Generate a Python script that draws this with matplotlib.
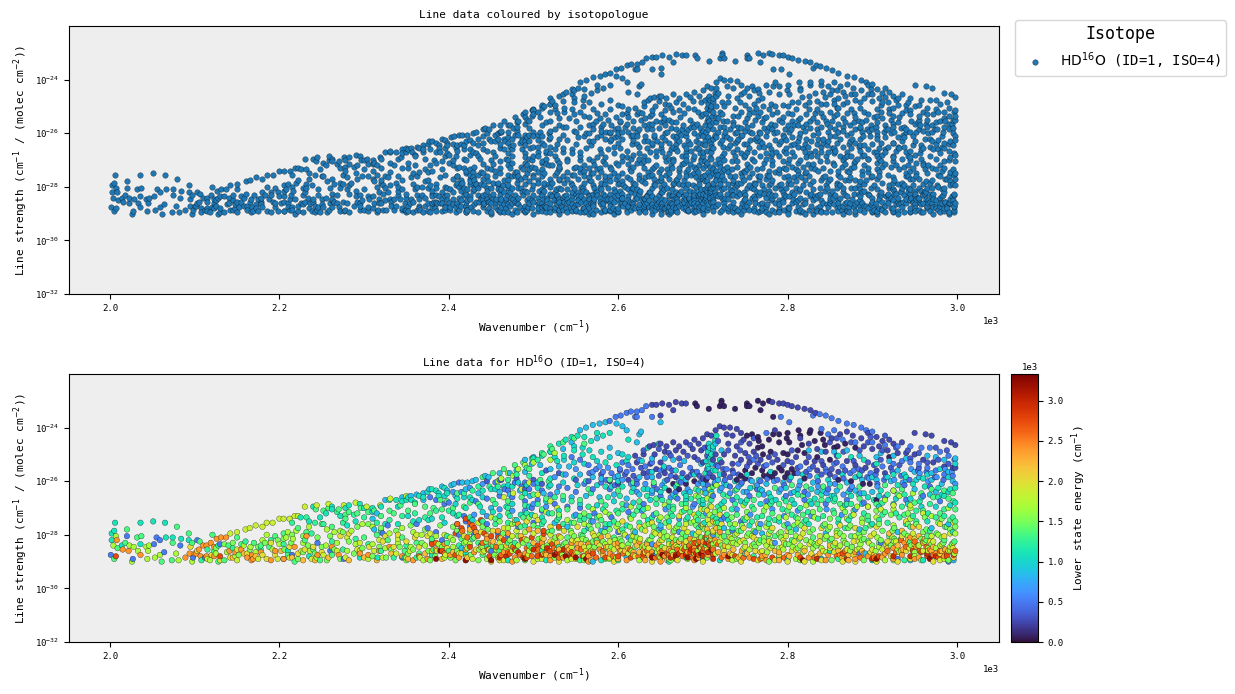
import numpy as np
import matplotlib
matplotlib.use("Agg")
import matplotlib.pyplot as plt

plt.rcParams['font.family'] = ['DejaVu Sans Mono']

# line list grouped by lower state energy (cm-1)
# each list holds wavenumber, log10(strength) pairs
e0080 = [2691,-23.1, 2693,-23.2, 2707,-23.3, 2722,-23.0, 2722,-23.1, 2720,-23.2, 2725,-23.2, 2738,-23.3,
    2752,-23.1, 2752,-23.2, 2755,-23.2, 2765,-23.0, 2771,-23.1, 2778,-23.0, 2768,-23.35, 2783,-23.6,
    2752,-24.3, 2758,-24.25, 2765,-24.35, 2766,-24.5, 2778,-24.45, 2770,-24.7, 2771,-25.0, 2783,-24.25,
    2790,-24.25, 2800,-24.2, 2799,-24.4, 2802,-24.55, 2813,-24.1, 2815,-24.3, 2827,-24.1, 2826,-24.2,
    2839,-24.2, 2817,-24.65, 2832,-24.5, 2842,-24.45, 2844,-24.65, 2855,-24.75, 2859,-24.7, 2800,-25.0,
    2765,-24.75, 2790,-24.55, 2812,-24.85, 2780,-24.9, 2795,-24.95, 2745,-25.8, 2750,-25.6, 2758,-25.7,
    2762,-25.5, 2770,-25.6, 2778,-25.75, 2785,-25.7, 2790,-25.5, 2793,-25.6, 2800,-25.7, 2797,-25.85,
    2805,-25.55, 2808,-25.7, 2750,-25.9, 2740,-25.95, 2772,-25.8, 2782,-25.85, 2820,-25.9, 2905,-26.7,
    2897,-26.1, 2889,-26.1, 2665,-26.1, 2672,-26.3, 2680,-26.1, 2690,-26.0, 2660,-26.35, 2704,-25.95,
    2875,-26.0, 2860,-25.95, 2850,-25.2, 2835,-25.1, 2820,-24.95, 2880,-24.75, 2868,-24.6, 2920,-25.1]
e0250 = [2640,-23.15, 2645,-23.15, 2652,-23.1, 2660,-23.15, 2668,-23.05, 2675,-23.1, 2680,-23.1, 2665,-23.35,
    2782,-23.05, 2790,-23.1, 2795,-23.1, 2800,-23.15, 2805,-23.2, 2812,-23.25, 2820,-23.3, 2827,-23.35,
    2833,-23.45, 2650,-23.55, 2785,-24.1, 2637,-24.7, 2642,-24.65, 2650,-24.6, 2657,-24.7, 2665,-24.55,
    2672,-24.7, 2680,-24.55, 2690,-24.45, 2695,-24.6, 2700,-24.4, 2705,-24.25, 2710,-24.3, 2715,-24.1,
    2720,-23.95, 2725,-24.0, 2732,-24.0, 2740,-24.05, 2745,-24.2, 2728,-24.25, 2735,-24.3, 2748,-24.45,
    2755,-24.6, 2730,-24.6, 2740,-24.7, 2760,-24.9, 2750,-24.95, 2725,-25.0, 2738,-25.05, 2715,-25.0,
    2706,-24.7, 2698,-24.85, 2688,-24.8, 2677,-24.9, 2668,-24.85, 2655,-24.9, 2643,-25.0, 2630,-25.0,
    2620,-25.05, 2622,-25.3, 2638,-25.35, 2650,-25.3, 2690,-25.1, 2700,-25.3, 2712,-25.2, 2722,-25.3,
    2735,-25.35, 2745,-25.2, 2755,-25.3, 2768,-25.2, 2778,-25.1, 2788,-25.2, 2800,-25.25, 2810,-25.1,
    2822,-25.3, 2832,-25.25, 2842,-25.4, 2815,-24.4, 2825,-24.6, 2835,-24.8, 2845,-24.9, 2852,-24.4,
    2862,-24.25, 2870,-24.15, 2877,-24.3, 2887,-24.4, 2895,-24.2, 2905,-24.35, 2912,-24.5, 2920,-24.45,
    2925,-24.6, 2935,-24.55, 2950,-24.2, 2963,-24.25, 2970,-24.3, 2985,-24.5, 2993,-24.55, 2998,-24.65,
    2890,-24.7, 2900,-24.8, 2908,-24.7, 2918,-24.85, 2930,-24.95, 2940,-24.95, 2950,-25.0, 2960,-25.2,
    2972,-25.3, 2985,-25.45, 2995,-25.5, 2998,-25.5, 2870,-25.25, 2880,-25.4, 2892,-25.5, 2905,-25.6,
    2915,-25.7, 2860,-25.65, 2850,-25.75, 2835,-25.6, 2735,-25.6, 2725,-25.75, 2712,-25.85, 2700,-25.9,
    2682,-25.85, 2668,-25.85, 2655,-25.7, 2645,-25.55, 2630,-25.7, 2612,-25.95, 2600,-26.1, 2590,-26.0]
e0350 = [2602,-25.6, 2608,-25.75, 2618,-25.8, 2627,-25.5, 2636,-25.65, 2648,-25.8, 2658,-25.95, 2664,-25.6,
    2676,-25.7, 2688,-25.65, 2696,-25.8, 2708,-25.7, 2716,-25.4, 2724,-25.55, 2732,-25.85, 2742,-25.75,
    2752,-25.45, 2765,-25.35, 2772,-25.45, 2782,-25.3, 2795,-25.4, 2805,-25.3, 2812,-25.5, 2822,-25.65,
    2830,-25.45, 2840,-25.75, 2852,-25.55, 2858,-25.3, 2868,-25.6, 2878,-25.25, 2888,-25.6, 2895,-25.3,
    2902,-25.4, 2910,-25.2, 2922,-25.5, 2932,-25.4, 2945,-25.15, 2955,-25.5, 2965,-25.3, 2978,-25.2,
    2990,-25.35, 2630,-24.85, 2648,-24.8, 2662,-25.05, 2672,-25.15, 2682,-25.05, 2694,-25.2, 2705,-25.05,
    2730,-24.85, 2744,-24.85, 2754,-25.1, 2763,-25.05, 2785,-25.0, 2805,-24.85, 2825,-25.1, 2840,-25.25,
    2858,-25.05, 2866,-24.9, 2875,-24.55, 2885,-24.85, 2895,-24.55, 2912,-24.85, 2928,-24.75, 2942,-24.85,
    2955,-24.95, 2975,-24.75, 2988,-24.85, 2850,-24.55, 2858,-24.4, 2898,-24.35, 2915,-24.3, 2760,-24.4,
    2745,-24.55, 2718,-24.5, 2702,-24.75, 2685,-24.65, 2660,-24.95, 2445,-26.0, 2462,-25.95, 2480,-25.9,
    2500,-25.95, 2515,-25.6, 2530,-25.7, 2565,-26.0, 2580,-25.75, 2490,-26.3, 2510,-26.1, 2550,-25.95]
e0450 = [2566,-25.7, 2586,-25.95, 2596,-26.15, 2610,-25.65, 2622,-25.95, 2634,-25.85, 2642,-26.15, 2654,-25.55,
    2662,-25.8, 2674,-26.05, 2686,-25.75, 2698,-26.0, 2706,-25.85, 2714,-26.1, 2726,-25.95, 2736,-25.7,
    2746,-26.05, 2756,-25.95, 2768,-26.0, 2776,-25.9, 2788,-25.95, 2802,-25.95, 2812,-25.7, 2826,-25.8,
    2836,-26.0, 2846,-25.65, 2856,-25.85, 2866,-25.9, 2874,-25.7, 2884,-25.55, 2894,-25.85, 2904,-25.75,
    2914,-25.95, 2924,-25.65, 2934,-25.8, 2944,-25.95, 2954,-25.6, 2964,-25.65, 2974,-25.85, 2984,-25.95,
    2622,-26.1, 2646,-26.3, 2668,-26.4, 2706,-26.15, 2732,-26.2, 2764,-26.3, 2796,-26.15, 2820,-26.4,
    2848,-26.3, 2874,-26.3, 2906,-26.1, 2938,-26.15, 2968,-26.2]
e0500 = [2590,-23.75, 2597,-23.6, 2603,-23.55, 2610,-23.45, 2615,-23.4, 2622,-23.4, 2628,-23.35, 2633,-23.2,
    2620,-23.6, 2640,-23.6, 2622,-23.6, 2830,-23.55, 2838,-23.5, 2845,-23.55, 2852,-23.65, 2860,-23.75,
    2870,-23.85, 2878,-23.9, 2887,-24.0, 2893,-24.1, 2900,-24.15, 2775,-24.2, 2792,-23.6, 2802,-23.8,
    2545,-25.1, 2555,-25.2, 2565,-25.4, 2574,-25.55, 2582,-25.65, 2592,-25.7, 2602,-25.55, 2612,-25.4,
    2605,-25.3, 2617,-25.55, 2625,-25.2, 2632,-25.45, 2640,-25.3, 2650,-25.6, 2660,-25.5, 2673,-25.4,
    2685,-25.5, 2693,-25.65, 2705,-25.55, 2718,-25.45, 2728,-25.55, 2742,-25.35, 2760,-25.2, 2775,-25.4,
    2815,-25.45, 2826,-25.55, 2845,-25.55, 2855,-25.35, 2865,-25.45, 2878,-25.6, 2885,-25.8, 2898,-25.7,
    2912,-25.45, 2925,-25.35, 2935,-25.25, 2945,-25.3, 2955,-25.35, 2965,-25.5, 2975,-25.6, 2985,-25.75,
    2995,-25.8, 2997,-25.2, 2990,-25.05, 2980,-24.9, 2968,-24.75, 2958,-24.75, 2945,-24.7, 2930,-24.7,
    2915,-24.65, 2900,-24.55, 2880,-24.55, 2865,-24.45, 2855,-24.1, 2848,-24.25, 2840,-24.05, 2495,-26.3,
    2510,-26.35, 2520,-26.5, 2530,-26.2, 2540,-26.25, 2550,-26.4, 2560,-26.1, 2570,-26.3, 2580,-26.05,
    2590,-26.3, 2455,-26.05, 2466,-26.3, 2478,-26.05, 2486,-26.2, 2470,-26.35, 2490,-26.05, 2500,-26.1,
    2432,-26.75, 2445,-26.65, 2460,-26.55, 2475,-26.6, 2490,-26.75, 2505,-26.7, 2525,-26.85, 2540,-26.95,
    2555,-27.0, 2572,-27.2, 2592,-27.35, 2612,-27.15, 2630,-26.85, 2650,-26.55, 2670,-26.65, 2690,-26.85,
    2712,-26.55, 2735,-26.7, 2755,-26.55, 2775,-26.75, 2798,-26.55, 2820,-26.7, 2845,-26.85, 2870,-26.7,
    2890,-26.8, 2915,-26.6, 2940,-26.7, 2960,-26.55, 2980,-26.75, 2498,-27.0, 2510,-27.1, 2600,-27.9,
    2725,-27.35, 2735,-27.85, 2745,-27.5, 2885,-28.7, 2930,-28.9, 2910,-28.3, 2990,-29.0, 2645,-28.7,
    2500,-27.55, 2420,-27.5, 2432,-27.9, 2445,-27.6, 2458,-27.95, 2470,-28.05, 2482,-27.7, 2400,-26.8,
    2412,-26.05, 2378,-26.6, 2385,-26.7, 2395,-26.85, 2418,-27.3, 2438,-28.4, 2450,-28.6, 2385,-27.9]
e0500_left = [2020,-28.05, 2055,-28.1, 2059,-28.2, 2052,-28.35, 2083,-28.4, 2064,-28.65, 2001,-28.75, 2027,-28.9,
    2098,-28.85, 2103,-28.2, 2130,-28.35, 2112,-28.85, 2215,-28.75, 2245,-28.3, 2260,-28.6, 2276,-28.9,
    2322,-27.95, 2328,-27.65, 2345,-28.85, 2362,-27.6, 2375,-27.75, 2392,-28.2, 2412,-28.0, 2430,-28.0]
e0650 = [2570,-25.65, 2578,-25.45, 2588,-25.5, 2596,-25.85, 2605,-25.95, 2615,-26.1, 2622,-26.4, 2632,-26.1,
    2640,-26.45, 2652,-26.15, 2662,-26.6, 2672,-26.0, 2682,-26.3, 2694,-26.1, 2702,-26.3, 2714,-26.05,
    2722,-26.25, 2732,-26.45, 2742,-26.2, 2752,-26.4, 2764,-26.15, 2772,-26.5, 2784,-26.0, 2792,-26.3,
    2804,-26.45, 2814,-26.15, 2824,-26.5, 2836,-26.2, 2846,-26.45, 2856,-26.1, 2866,-26.5, 2876,-26.2,
    2886,-26.45, 2896,-25.9, 2906,-26.2, 2916,-25.85, 2926,-25.95, 2936,-26.05, 2946,-25.55, 2956,-25.7,
    2966,-26.0, 2976,-25.85, 2986,-25.55, 2994,-25.65, 2998,-26.1, 2610,-26.9, 2628,-27.1, 2642,-27.25,
    2656,-27.05, 2672,-27.4, 2688,-26.95, 2704,-27.2, 2722,-27.45, 2740,-27.05, 2756,-27.25, 2768,-27.6,
    2782,-27.05, 2796,-27.3, 2812,-27.1, 2828,-27.3, 2846,-27.05, 2864,-27.25, 2880,-27.05, 2650,-27.75,
    2672,-27.9, 2698,-27.65, 2712,-28.0, 2762,-27.9, 2785,-28.3, 2800,-27.6, 2640,-28.35, 2612,-28.1,
    2585,-27.7, 2570,-27.5, 2550,-27.25, 2530,-27.3, 2515,-26.95, 2500,-26.85, 2490,-27.1, 2475,-27.1,
    2460,-27.05, 2445,-27.3, 2430,-27.25, 2425,-27.7, 2410,-27.6, 2550,-25.55, 2538,-25.75, 2525,-25.85,
    2460,-25.95, 2440,-26.1, 2425,-26.25, 2415,-26.4, 2405,-26.4]
e0850 = [2555,-24.1, 2562,-24.0, 2570,-23.9, 2578,-23.85, 2585,-23.8, 2598,-23.85, 2605,-23.95, 2610,-24.1,
    2627,-24.15, 2650,-23.8, 2622,-24.55, 2625,-24.25, 2648,-24.6, 2600,-24.95, 2590,-24.75, 2575,-24.4,
    2545,-24.55, 2535,-24.8, 2520,-24.9, 2510,-25.0, 2500,-25.1, 2490,-25.2, 2498,-25.35, 2508,-25.4,
    2520,-25.55, 2530,-25.45, 2542,-25.45, 2555,-25.75, 2570,-25.85, 2580,-25.9, 2600,-25.8, 2625,-25.85,
    2640,-25.85, 2655,-26.0, 2680,-25.95, 2700,-26.1, 2718,-25.95, 2725,-26.05, 2745,-26.1, 2758,-26.0,
    2775,-26.1, 2795,-26.05, 2815,-26.0, 2830,-26.05, 2850,-26.1, 2870,-26.05, 2888,-25.95, 2905,-25.95,
    2922,-26.0, 2940,-25.95, 2955,-25.85, 2970,-25.95, 2982,-26.1, 2995,-26.0, 2990,-25.65, 2970,-25.7,
    2950,-25.65, 2930,-25.6, 2920,-25.25, 2905,-25.1, 2885,-25.05, 2870,-24.85, 2855,-24.9, 2840,-24.9,
    2825,-24.85, 2965,-25.05, 2975,-25.1, 2985,-25.2, 2998,-25.15, 2940,-25.15, 2925,-25.05, 2910,-24.95,
    2715,-24.6, 2712,-24.8, 2722,-24.85, 2640,-25.15, 2655,-25.15, 2665,-25.2, 2678,-25.25, 2698,-25.35,
    2460,-26.4, 2472,-26.5, 2484,-26.35, 2496,-26.55, 2512,-26.45, 2528,-26.4, 2545,-26.6, 2562,-26.55,
    2578,-26.6, 2595,-26.5, 2610,-26.65, 2625,-26.5, 2640,-26.35, 2665,-26.5, 2685,-26.4, 2703,-26.45,
    2720,-26.35, 2748,-26.4, 2770,-26.35, 2790,-26.4, 2812,-26.3, 2835,-26.4, 2858,-26.35, 2880,-26.35,
    2900,-26.4, 2925,-26.35, 2950,-26.3, 2975,-26.4, 2420,-26.3, 2435,-26.45, 2408,-26.55, 2398,-26.35,
    2345,-26.6, 2355,-26.55, 2362,-26.5, 2370,-26.45, 2377,-26.3, 2392,-26.2, 2403,-26.15, 2406,-26.1,
    2416,-26.05, 2422,-26.05, 2428,-26.0, 2432,-25.95, 2443,-25.8, 2447,-25.85, 2460,-25.7, 2472,-25.7,
    2480,-25.6, 2490,-25.65, 2370,-26.7, 2325,-26.7, 2315,-27.2, 2310,-27.4, 2312,-27.8, 2450,-27.0,
    2525,-27.55, 2540,-27.7, 2565,-27.75, 2580,-27.85, 2620,-27.9, 2650,-27.65, 2688,-27.95, 2725,-27.75,
    2770,-27.95, 2810,-27.8, 2845,-27.95, 2885,-27.8, 2930,-27.9, 2970,-27.75, 2990,-27.6, 2750,-28.7,
    2700,-28.9, 2610,-28.85, 2570,-29.0, 2840,-28.9, 2892,-28.7, 2945,-28.95, 2996,-28.95, 2415,-28.5]
e1000 = [2707,-24.6, 2708,-24.75, 2706,-24.9, 2709,-25.1, 2704,-25.25, 2711,-25.35, 2707,-25.55, 2712,-25.6,
    2548,-24.7, 2558,-24.75, 2566,-24.85, 2580,-24.9, 2590,-25.1, 2575,-25.25, 2560,-25.35, 2548,-25.3,
    2536,-25.2, 2525,-25.1, 2605,-25.0, 2612,-25.1, 2628,-25.25, 2640,-25.65, 2654,-25.45, 2668,-25.6,
    2675,-25.85, 2690,-25.75, 2720,-25.75, 2738,-26.0, 2752,-25.75, 2766,-25.95, 2780,-25.65, 2804,-25.85,
    2818,-25.75, 2835,-25.85, 2848,-25.95, 2865,-25.75, 2880,-25.85, 2900,-25.85, 2918,-25.85, 2938,-25.75,
    2952,-25.95, 2965,-25.75, 2980,-25.55, 2990,-25.85, 2998,-25.35, 2600,-26.0, 2618,-26.25, 2635,-26.3,
    2650,-26.4, 2668,-26.2, 2678,-26.45, 2695,-26.35, 2710,-26.4, 2728,-26.15, 2738,-26.35, 2756,-26.25,
    2768,-26.3, 2778,-26.45, 2798,-26.25, 2808,-26.4, 2828,-26.3, 2842,-26.35, 2855,-26.55, 2872,-26.4,
    2890,-26.45, 2908,-26.55, 2928,-26.65, 2945,-26.65, 2958,-26.6, 2968,-26.5, 2982,-26.5, 2990,-26.4,
    2440,-26.6, 2455,-26.3, 2470,-26.15, 2482,-26.05, 2492,-26.15, 2505,-26.05, 2520,-26.15, 2535,-26.05,
    2552,-26.15, 2575,-26.15, 2592,-26.2, 2475,-26.85, 2495,-26.95, 2515,-26.75, 2535,-26.7, 2555,-26.85,
    2575,-26.9, 2595,-26.75, 2618,-26.8, 2638,-26.7, 2660,-26.95, 2680,-26.7, 2700,-26.85, 2722,-26.85,
    2745,-26.75, 2768,-26.85, 2786,-26.7, 2808,-26.85, 2828,-26.85, 2848,-26.7, 2868,-26.9, 2888,-26.85,
    2908,-26.95, 2925,-26.85, 2942,-26.85, 2958,-26.95, 2975,-26.95, 2992,-26.9, 2418,-26.6, 2428,-26.7,
    2408,-26.85, 2388,-26.45, 2395,-26.55, 2310,-27.15, 2340,-26.95, 2352,-27.3, 2365,-27.45, 2380,-27.4,
    2395,-27.55, 2410,-27.3, 2428,-27.45, 2440,-27.15, 2460,-27.3, 2480,-27.45, 2498,-27.25, 2518,-27.2]
e1100 = [2520,-24.9, 2530,-24.6, 2538,-24.45, 2545,-24.35, 2552,-24.3, 2560,-24.35, 2568,-24.5, 2575,-24.2,
    2582,-24.3, 2590,-24.2, 2510,-25.05, 2500,-25.15, 2612,-24.45, 2635,-24.75, 2716,-24.3, 2714,-24.5,
    2712,-24.7, 2710,-25.0, 2708,-25.15, 2706,-25.45, 2703,-25.7, 2715,-25.6, 2720,-25.2, 2610,-25.25,
    2598,-25.4, 2585,-25.3, 2570,-25.1, 2558,-25.0, 2548,-24.85, 2536,-25.05, 2528,-25.25, 2510,-25.7,
    2520,-25.9, 2535,-25.75, 2548,-25.9, 2562,-26.0, 2585,-26.2, 2605,-26.2, 2630,-26.3, 2655,-26.25,
    2680,-26.55, 2700,-26.7, 2725,-26.75, 2750,-26.8, 2780,-26.6, 2805,-26.7, 2832,-26.65, 2852,-26.55,
    2875,-26.55, 2895,-26.6, 2910,-26.35, 2930,-26.15, 2948,-26.1, 2962,-26.2, 2978,-26.25, 2992,-26.3,
    2998,-26.25, 2940,-25.85, 2925,-25.75, 2905,-25.35, 2890,-25.2, 2875,-25.1, 2860,-25.05, 2885,-25.75,
    2960,-25.9, 2985,-26.55, 2998,-26.8, 2365,-26.55, 2375,-26.4, 2385,-26.35, 2395,-26.25, 2370,-26.6,
    2380,-26.3, 2388,-26.55, 2398,-26.45, 2350,-26.7, 2345,-26.75, 2352,-26.6, 2356,-26.7, 2360,-26.8,
    2338,-26.7, 2330,-26.7, 2320,-26.95, 2310,-27.0, 2282,-26.9, 2295,-26.85, 2240,-26.95, 2262,-26.95,
    2278,-27.0, 2300,-27.0, 2410,-26.65, 2425,-26.6, 2440,-26.35, 2450,-26.3, 2465,-26.2, 2475,-26.2,
    2490,-26.45, 2505,-26.25, 2518,-26.2, 2225,-27.35, 2235,-27.5, 2248,-27.35, 2255,-27.2, 2262,-27.05,
    2272,-27.3, 2280,-27.65, 2290,-27.5, 2320,-27.85, 2325,-27.6, 2340,-27.6, 2358,-27.5, 2376,-27.45,
    2392,-27.35, 2405,-27.2, 2420,-27.0, 2437,-26.95, 2452,-27.15, 2468,-26.95, 2485,-27.25, 2510,-27.35,
    2530,-27.1, 2548,-27.3, 2568,-27.5, 2590,-27.6, 2610,-27.65, 2635,-27.45, 2660,-27.5, 2682,-27.35,
    2702,-27.55, 2730,-27.45, 2755,-27.65, 2790,-27.5, 2825,-27.6, 2860,-27.55, 2900,-27.6, 2940,-27.6,
    2965,-27.5, 2995,-27.9, 2210,-28.6, 2235,-28.8, 2262,-28.5, 2295,-28.85, 2316,-28.85, 2348,-28.85,
    2380,-28.75, 2420,-28.7, 2470,-28.95, 2515,-28.95, 2580,-28.95, 2660,-29.0, 2720,-28.95, 2800,-28.95,
    2850,-28.6, 2900,-28.95, 2960,-28.95, 2006,-27.55, 2005,-27.85, 2002,-27.95, 2036,-27.55, 2051,-27.5,
    2065,-27.55, 2002,-28.2, 2014,-28.4, 2036,-28.35, 2084,-28.15, 2093,-28.2, 2074,-28.1, 2066,-28.1]
e1200 = [2568,-26.45, 2588,-26.6, 2602,-26.55, 2616,-26.4, 2634,-26.55, 2652,-26.7, 2668,-26.6, 2686,-26.65,
    2696,-26.75, 2710,-26.7, 2724,-26.5, 2740,-26.6, 2752,-26.7, 2766,-26.5, 2782,-26.75, 2796,-26.65,
    2812,-26.5, 2826,-26.75, 2840,-26.5, 2856,-26.65, 2870,-26.85, 2884,-26.5, 2902,-26.7, 2918,-26.5,
    2938,-26.5, 2956,-26.75, 2978,-26.6, 2566,-27.3, 2582,-27.05, 2598,-27.1, 2614,-27.35, 2630,-27.05,
    2648,-27.45, 2664,-27.3, 2678,-27.1, 2694,-27.45, 2716,-27.4, 2734,-27.05, 2750,-27.45, 2764,-27.35,
    2778,-27.4, 2794,-27.05, 2810,-27.35, 2824,-27.15, 2836,-27.4, 2854,-27.1, 2872,-27.45, 2890,-27.2,
    2908,-27.45, 2928,-27.2, 2948,-27.3, 2966,-27.2, 2985,-27.3, 2472,-27.3, 2492,-27.2, 2512,-27.5,
    2528,-27.45, 2545,-27.55, 2560,-27.4]
e1250 = [2520,-24.7, 2510,-24.95, 2505,-25.2, 2492,-25.5, 2480,-25.75, 2495,-25.8, 2470,-25.95, 2458,-26.2,
    2448,-26.2, 2435,-26.2, 2428,-26.35, 2418,-26.45, 2505,-26.85, 2525,-26.6, 2545,-26.75, 2565,-26.95,
    2585,-26.9, 2605,-27.05, 2625,-26.95, 2645,-26.85, 2665,-26.95, 2680,-26.85, 2698,-26.95, 2718,-26.95,
    2738,-26.85, 2758,-26.95, 2780,-26.85, 2798,-26.75, 2815,-27.0, 2835,-26.85, 2855,-26.75, 2875,-26.85,
    2895,-26.95, 2912,-26.8, 2935,-26.95, 2952,-27.1, 2968,-26.85, 2985,-27.05, 2996,-26.75, 2530,-27.35,
    2555,-27.45, 2575,-27.35, 2595,-27.5, 2618,-27.25, 2640,-27.35, 2662,-27.2, 2680,-27.45, 2695,-27.2,
    2712,-27.35, 2728,-27.25, 2748,-27.4, 2770,-27.3, 2785,-27.45, 2805,-27.25, 2822,-27.45, 2842,-27.3,
    2860,-27.4, 2875,-27.3, 2895,-27.45, 2912,-27.25, 2932,-27.35, 2952,-27.5, 2975,-27.35, 2995,-27.35,
    2455,-26.85, 2470,-27.0, 2490,-26.9, 2510,-27.6, 2535,-27.6, 2560,-27.85, 2585,-27.6, 2605,-27.8,
    2625,-27.55, 2648,-27.8, 2672,-27.6, 2695,-27.75, 2718,-27.55, 2735,-27.75, 2758,-27.5, 2778,-27.6,
    2802,-27.75, 2820,-27.5, 2842,-27.65, 2868,-27.75, 2892,-27.75, 2918,-27.55, 2945,-27.7, 2968,-27.85,
    2986,-27.7, 2385,-27.1, 2400,-27.1, 2412,-27.25, 2425,-27.35, 2440,-27.5, 2455,-27.6, 2470,-27.55,
    2490,-27.65, 2345,-27.3, 2360,-27.2, 2372,-27.35, 2330,-27.45, 2315,-27.55, 2300,-27.35, 2288,-27.25,
    2275,-27.55, 2268,-27.15, 2252,-27.6, 2242,-27.55, 2232,-27.35, 2238,-27.95, 2215,-27.55, 2205,-28.35,
    2190,-28.2, 2178,-28.55, 2160,-28.25, 2145,-28.5, 2128,-28.4, 2115,-28.55, 2108,-28.95, 2262,-28.25,
    2275,-28.55, 2290,-28.15, 2305,-28.35, 2320,-28.6, 2335,-28.85, 2350,-28.4, 2362,-28.85, 2380,-28.25,
    2398,-28.05, 2412,-28.4, 2428,-28.15, 2445,-28.45, 2460,-28.15, 2478,-28.3, 2495,-28.4, 2510,-28.6,
    2530,-28.45, 2555,-28.95, 2600,-28.95, 2680,-28.85, 2760,-28.8, 2790,-28.85, 2860,-28.9, 2938,-28.95]
e1350 = [2020,-27.8, 2079,-27.7, 2093,-27.95, 2037,-28.05, 2032,-28.1, 2074,-28.3, 2097,-28.3, 2018,-28.3,
    2009,-28.5, 2005,-28.9, 2073,-28.95, 2061,-29.0, 2121,-28.0, 2106,-28.25, 2123,-28.6, 2135,-28.95,
    2128,-29.0, 2140,-28.4, 2155,-28.35, 2170,-28.3, 2150,-28.1, 2195,-28.05, 2178,-28.4, 2188,-28.45,
    2205,-27.95, 2222,-27.75, 2230,-28.2, 2240,-28.55, 2210,-28.75, 2218,-29.0, 2248,-28.95, 2262,-28.75,
    2232,-27.9, 2250,-27.6, 2243,-27.05, 2252,-27.1, 2258,-27.0, 2270,-27.05, 2278,-27.25, 2282,-27.15,
    2262,-27.7, 2278,-27.4, 2292,-27.2, 2296,-27.0, 2305,-27.15, 2312,-27.1, 2320,-27.3, 2330,-27.1,
    2335,-27.2, 2343,-26.9, 2352,-27.1, 2360,-26.85, 2372,-26.95, 2382,-27.0, 2390,-26.7, 2398,-26.75,
    2410,-26.45, 2425,-26.8, 2300,-28.1, 2315,-28.0, 2328,-28.2, 2345,-28.1, 2362,-28.3, 2380,-28.15,
    2398,-28.3, 2415,-28.15, 2435,-28.3, 2452,-28.4, 2470,-28.3, 2348,-28.6, 2365,-28.7, 2382,-28.55,
    2400,-28.6, 2440,-28.75, 2460,-28.6, 2485,-27.7, 2505,-27.75, 2522,-27.85, 2540,-28.1, 2558,-28.05,
    2575,-28.2, 2595,-28.1, 2615,-28.2, 2640,-28.05, 2660,-28.25, 2680,-28.05, 2705,-28.15, 2725,-28.05,
    2745,-27.85, 2768,-28.2, 2785,-28.05, 2805,-28.2, 2830,-28.1, 2850,-28.25, 2875,-28.05, 2895,-28.25,
    2920,-28.05, 2945,-28.25, 2965,-28.05, 2985,-28.2, 2997,-28.25, 2455,-27.4, 2470,-27.2, 2488,-27.35,
    2510,-27.05, 2522,-27.2, 2540,-27.05, 2555,-27.3, 2580,-27.45, 2600,-27.2, 2622,-27.1, 2645,-27.2,
    2665,-27.05, 2685,-27.15, 2700,-27.3, 2720,-27.1, 2740,-27.25, 2760,-27.05, 2782,-27.2, 2800,-27.1,
    2818,-27.25, 2838,-27.05, 2855,-27.2, 2878,-27.1, 2895,-27.3, 2915,-27.15, 2938,-27.25, 2960,-27.1,
    2980,-27.2, 2992,-27.45, 2998,-27.5, 2440,-25.85, 2452,-25.7, 2465,-25.55, 2478,-25.4, 2488,-25.3,
    2498,-25.15, 2512,-25.0, 2522,-24.8, 2535,-24.55, 2548,-24.4, 2560,-24.6, 2495,-25.55, 2508,-25.95,
    2518,-26.0, 2590,-25.95, 2600,-26.35, 2618,-26.05, 2642,-26.05, 2670,-26.1, 2692,-26.3, 2712,-26.2,
    2740,-26.3, 2762,-26.2, 2785,-26.25, 2805,-26.15, 2822,-26.2, 2842,-26.2, 2862,-26.2, 2885,-26.2,
    2915,-26.15, 2935,-26.3, 2958,-26.45, 2972,-26.6, 2990,-26.65, 2995,-26.45, 2985,-26.35, 2998,-27.05,
    2605,-26.85, 2625,-26.75, 2645,-26.65, 2660,-26.75, 2675,-26.85, 2695,-26.6, 2708,-26.9, 2730,-26.55,
    2760,-26.7, 2790,-26.85, 2818,-26.55, 2840,-26.7, 2862,-26.85, 2885,-26.65, 2905,-26.85, 2930,-26.5,
    2950,-26.8, 2970,-26.3, 2565,-26.3, 2580,-26.75, 2555,-26.7, 2535,-26.55, 2515,-26.65, 2500,-26.5,
    2486,-26.6, 2470,-26.75, 2452,-26.7, 2435,-26.85, 2418,-26.95, 2405,-27.0, 2392,-27.05, 2378,-27.2]
e1450 = [2544,-27.85, 2556,-28.0, 2568,-27.8, 2576,-27.65, 2590,-27.8, 2606,-27.95, 2614,-27.7, 2628,-27.8,
    2642,-27.7, 2656,-27.55, 2666,-27.85, 2676,-27.95, 2692,-27.65, 2706,-27.95, 2720,-27.75, 2732,-27.6,
    2742,-27.85, 2754,-27.95, 2766,-27.75, 2780,-27.85, 2796,-27.65, 2804,-27.9, 2816,-27.65, 2830,-27.8,
    2848,-27.8, 2862,-27.95, 2872,-27.75, 2884,-27.95, 2898,-27.65, 2912,-27.85, 2926,-27.75, 2938,-27.95,
    2952,-27.6, 2964,-27.8, 2976,-27.95, 2988,-27.7, 2536,-28.35, 2552,-28.45, 2570,-28.25, 2586,-28.5,
    2604,-28.25, 2620,-28.45, 2636,-28.2, 2652,-28.45, 2668,-28.2, 2684,-28.45, 2704,-28.4, 2722,-28.4,
    2742,-28.2, 2760,-28.35, 2778,-28.15, 2798,-28.35, 2814,-28.15, 2832,-28.35, 2852,-28.15, 2870,-28.35,
    2890,-28.15, 2908,-28.3, 2926,-28.15, 2944,-28.3, 2964,-28.2, 2984,-28.3, 2410,-27.85, 2430,-28.1,
    2446,-27.8, 2464,-27.95, 2482,-28.05, 2500,-27.65, 2518,-27.9]
e1500 = [2125,-28.5, 2135,-28.35, 2145,-28.3, 2152,-28.75, 2165,-28.55, 2175,-28.45, 2183,-28.3, 2198,-28.2,
    2206,-28.55, 2214,-28.3, 2222,-28.9, 2228,-28.65, 2234,-28.4, 2242,-28.7, 2250,-28.45, 2256,-28.95,
    2265,-28.55, 2272,-28.9, 2282,-28.25, 2288,-28.7, 2298,-28.5, 2310,-28.8, 2318,-28.45, 2326,-28.85,
    2332,-28.55, 2342,-28.45, 2352,-28.7, 2358,-28.55, 2368,-28.3, 2376,-28.6, 2384,-28.8, 2392,-28.45,
    2402,-28.85, 2410,-28.6, 2418,-28.3, 2426,-28.75, 2436,-28.55, 2444,-28.25, 2454,-28.75, 2462,-28.45,
    2472,-28.2, 2480,-28.6, 2488,-28.3, 2498,-28.5, 2506,-28.15, 2516,-28.4, 2526,-28.1, 2538,-28.3,
    2548,-28.05, 2562,-28.2, 2572,-28.45, 2582,-28.25, 2592,-28.45, 2602,-28.15, 2612,-28.35, 2622,-28.1,
    2634,-28.3, 2644,-28.5, 2654,-28.1, 2664,-28.35, 2674,-28.15, 2688,-28.3, 2698,-28.1, 2708,-28.3,
    2718,-28.0, 2728,-28.25, 2738,-28.0, 2750,-28.3, 2762,-28.45, 2772,-28.1, 2782,-28.4, 2792,-28.1,
    2802,-28.35, 2812,-28.5, 2822,-28.2, 2834,-28.4, 2844,-28.15, 2854,-28.4, 2866,-28.2, 2876,-28.45,
    2888,-28.2, 2900,-28.4, 2910,-28.2, 2922,-28.4, 2934,-28.15, 2946,-28.4, 2958,-28.15, 2970,-28.35,
    2982,-28.1, 2994,-28.35, 2998,-27.7, 2530,-27.75, 2548,-27.55, 2566,-27.65, 2584,-27.9, 2600,-27.6,
    2618,-27.85, 2636,-27.6, 2654,-27.9, 2670,-27.7, 2686,-27.55, 2702,-27.8, 2716,-27.55, 2730,-27.9,
    2746,-27.65, 2760,-27.85, 2776,-27.55, 2792,-27.9, 2808,-27.65, 2826,-27.9, 2844,-27.6, 2858,-27.85,
    2874,-27.65, 2890,-27.9, 2908,-27.6, 2924,-27.85, 2942,-27.6, 2960,-27.9, 2978,-27.55, 2992,-27.8,
    2530,-27.25, 2560,-27.2, 2590,-27.25, 2630,-27.3, 2658,-27.35, 2675,-27.15, 2692,-27.35, 2702,-27.05,
    2714,-27.15, 2734,-27.35, 2752,-27.15, 2772,-27.1, 2790,-27.35, 2812,-27.4, 2830,-27.15, 2850,-27.4,
    2868,-27.15, 2888,-27.4, 2905,-27.1, 2922,-27.25, 2942,-27.2, 2962,-27.35, 2982,-27.4, 2460,-27.5,
    2478,-27.55, 2495,-27.35, 2440,-27.7, 2425,-27.9, 2405,-27.7, 2390,-27.65, 2372,-27.8, 2355,-27.65,
    2338,-27.85, 2320,-27.75, 2305,-27.6, 2292,-27.7, 2275,-27.9, 2260,-28.05, 2245,-28.1, 2228,-28.05,
    2215,-28.0, 2205,-28.15, 2350,-28.95, 2378,-28.95, 2408,-28.95, 2435,-28.95, 2490,-28.95, 2525,-28.85,
    2560,-28.95, 2585,-28.9, 2630,-28.85, 2662,-28.95, 2705,-28.85, 2740,-28.9, 2778,-29.0, 2815,-28.95,
    2852,-28.95, 2890,-28.95, 2925,-28.95, 2958,-28.95, 2990,-28.95]
e1600 = [2534,-28.75, 2552,-28.65, 2566,-28.45, 2580,-28.65, 2598,-28.85, 2616,-28.6, 2632,-28.45, 2646,-28.65,
    2664,-28.65, 2680,-28.45, 2694,-28.6, 2712,-28.35, 2724,-28.5, 2736,-28.3, 2748,-28.5, 2766,-28.3,
    2776,-28.65, 2790,-28.5, 2806,-28.45, 2818,-28.65, 2830,-28.5, 2846,-28.65, 2860,-28.5, 2874,-28.6,
    2886,-28.35, 2904,-28.6, 2918,-28.3, 2932,-28.65, 2950,-28.65, 2966,-28.5, 2980,-28.4, 2992,-28.6,
    2558,-28.15, 2578,-28.0, 2596,-28.2, 2616,-28.05, 2638,-28.2, 2658,-28.05, 2672,-28.25, 2692,-28.0,
    2710,-28.15, 2734,-28.15, 2752,-28.05, 2772,-28.25, 2790,-27.95, 2810,-28.05, 2828,-28.25, 2846,-28.05,
    2866,-28.05, 2886,-28.1, 2906,-28.1, 2926,-28.25, 2942,-28.05, 2962,-28.25, 2978,-28.0, 2405,-28.2,
    2422,-28.5, 2440,-28.45, 2456,-28.55, 2474,-28.4, 2492,-28.2, 2510,-28.25, 2528,-28.35]
e1700 = [2007,-28.05, 2004,-28.4, 2023,-28.4, 2028,-28.45, 2033,-28.6, 2043,-28.45, 2046,-28.4, 2044,-28.9,
    2053,-28.85, 2045,-28.6, 2078,-28.7, 2081,-28.95, 2059,-28.75, 2026,-29.0, 2097,-29.0, 2118,-28.95,
    2125,-28.7, 2138,-28.65, 2148,-28.8, 2158,-28.4, 2166,-28.45, 2180,-28.2, 2185,-28.0, 2172,-28.65,
    2192,-28.55, 2200,-28.35, 2208,-28.1, 2216,-28.15, 2228,-28.3, 2236,-28.6, 2244,-28.85, 2255,-28.4,
    2268,-28.3, 2280,-28.6, 2290,-28.35, 2305,-28.9, 2210,-27.9, 2220,-27.85, 2235,-27.7, 2256,-27.8,
    2265,-27.9, 2272,-27.85, 2285,-27.85, 2298,-27.6, 2310,-27.7, 2330,-27.95, 2345,-27.75, 2358,-27.9,
    2368,-28.0, 2385,-28.05, 2402,-28.1, 2420,-28.25, 2310,-28.35, 2325,-28.5, 2340,-28.3, 2355,-28.45,
    2372,-28.4, 2388,-28.35, 2405,-28.45, 2425,-28.35, 2448,-28.55, 2468,-28.5, 2482,-28.4, 2495,-28.6,
    2512,-28.45, 2528,-28.55, 2350,-28.85, 2370,-28.95, 2395,-28.85, 2420,-28.95, 2445,-28.9, 2480,-28.95,
    2505,-28.9, 2540,-28.95, 2560,-28.8, 2590,-28.9, 2625,-28.95, 2650,-28.85, 2682,-28.9, 2715,-28.7,
    2735,-28.95, 2770,-28.85, 2810,-28.9, 2830,-29.0, 2870,-28.85, 2915,-28.95, 2950,-28.8, 2985,-28.9,
    2475,-27.6, 2490,-27.9, 2510,-28.1, 2525,-28.2, 2545,-27.95, 2565,-28.3, 2585,-28.35, 2605,-28.4,
    2628,-28.45, 2650,-28.2, 2670,-28.45, 2695,-28.35, 2712,-28.5, 2740,-28.35, 2755,-28.55, 2775,-28.4,
    2795,-28.55, 2815,-28.4, 2840,-28.5, 2862,-28.4, 2885,-28.5, 2908,-28.45, 2930,-28.55, 2955,-28.4,
    2975,-28.5, 2992,-28.45, 2997,-28.7, 2540,-27.45, 2560,-27.6, 2578,-27.3, 2598,-27.7, 2615,-27.4,
    2632,-27.65, 2650,-27.35, 2668,-27.75, 2690,-27.5, 2708,-27.25, 2715,-27.7, 2738,-27.6, 2752,-27.35,
    2775,-27.7, 2798,-27.35, 2812,-27.55, 2832,-27.35, 2850,-27.7, 2870,-27.4, 2888,-27.55, 2905,-27.35,
    2925,-27.65, 2945,-27.4, 2970,-27.3, 2990,-27.0, 2998,-27.95, 2708,-26.3, 2716,-26.15, 2710,-26.5,
    2705,-26.65, 2700,-26.4, 2692,-26.55, 2915,-26.7, 2932,-26.55, 2948,-26.45, 2925,-26.35, 2945,-27.0,
    2925,-27.05, 2882,-26.95, 2865,-27.0, 2822,-26.9, 2802,-26.95, 2775,-26.95, 2748,-26.9, 2725,-27.0,
    2680,-27.0, 2655,-26.9, 2635,-27.0, 2615,-26.95, 2570,-27.05, 2585,-27.15, 2470,-27.75, 2520,-25.2,
    2500,-25.3, 2490,-25.4, 2482,-25.55, 2470,-25.7, 2462,-25.9, 2476,-25.8, 2525,-24.95, 2458,-26.0]
e1850 = [2142,-27.95, 2150,-27.9, 2160,-27.8, 2165,-27.75, 2172,-27.65, 2180,-27.7, 2185,-27.55, 2192,-27.55,
    2200,-27.4, 2205,-27.4, 2212,-27.4, 2218,-27.3, 2222,-27.3, 2230,-26.95, 2244,-26.9, 2258,-26.85,
    2276,-26.9, 2290,-26.8, 2303,-26.95, 2319,-26.9, 2331,-26.65, 2350,-26.55, 2495,-26.05, 2486,-26.3,
    2476,-26.45, 2465,-26.6, 2505,-26.5, 2520,-26.75, 2528,-27.0, 2515,-27.15, 2502,-27.3, 2115,-28.9,
    2150,-28.95, 2175,-28.9, 2198,-28.9, 2212,-28.85, 2226,-28.6, 2238,-28.9, 2252,-28.75, 2268,-28.6,
    2278,-28.85, 2292,-28.55, 2312,-28.6, 2322,-28.85, 2338,-28.7, 2354,-28.6, 2366,-28.85, 2386,-28.6,
    2396,-28.75, 2412,-28.7, 2428,-28.9, 2442,-28.6, 2458,-28.85, 2475,-28.6, 2494,-28.75, 2512,-28.7,
    2530,-28.9, 2545,-28.45, 2562,-28.6, 2578,-28.4, 2595,-28.55, 2612,-28.7, 2630,-28.4, 2648,-28.55,
    2660,-28.35, 2676,-28.5, 2690,-28.2, 2702,-28.45, 2716,-28.3, 2730,-28.45, 2744,-28.25, 2758,-28.4,
    2770,-28.6, 2782,-28.3, 2794,-28.45, 2808,-28.25, 2820,-28.5, 2836,-28.3, 2850,-28.5, 2868,-28.3,
    2882,-28.55, 2896,-28.3, 2912,-28.55, 2928,-28.25, 2944,-28.5, 2960,-28.6, 2972,-28.25, 2986,-28.55,
    2996,-28.3, 2532,-28.1, 2552,-28.2, 2572,-28.05, 2590,-28.25, 2608,-28.0, 2626,-28.15, 2644,-27.95,
    2664,-28.1, 2682,-27.9, 2700,-27.7, 2706,-27.45, 2712,-27.9, 2722,-28.1, 2740,-27.95, 2758,-28.05,
    2778,-27.95, 2798,-28.05, 2818,-27.95, 2838,-28.05, 2858,-27.95, 2880,-28.05, 2902,-27.95, 2924,-28.1,
    2948,-27.95, 2970,-28.05, 2992,-27.95, 2680,-27.6, 2660,-27.7, 2642,-27.9, 2708,-27.6, 2895,-26.95,
    2910,-27.05, 2925,-26.9, 2945,-26.9, 2960,-27.2, 2878,-27.25, 2450,-27.35, 2480,-27.85, 2435,-27.55,
    2415,-27.9, 2395,-28.0, 2378,-27.95, 2362,-28.0, 2340,-28.15, 2318,-28.2, 2295,-28.3, 2280,-28.1,
    2475,-28.05, 2460,-28.3, 2500,-27.95, 2520,-28.0]
e1950 = [2546,-28.2, 2560,-28.45, 2574,-28.2, 2588,-28.45, 2604,-28.6, 2620,-28.25, 2636,-28.5, 2652,-28.2,
    2668,-28.4, 2680,-28.25, 2698,-28.5, 2708,-28.1, 2720,-28.25, 2734,-28.3, 2750,-28.45, 2764,-28.2,
    2780,-28.5, 2796,-28.3, 2810,-28.55, 2826,-28.35, 2842,-28.6, 2856,-28.3, 2870,-28.55, 2884,-28.25,
    2900,-28.55, 2916,-28.35, 2934,-28.6, 2950,-28.35, 2966,-28.6, 2982,-28.35, 2590,-28.85, 2620,-28.8,
    2660,-28.9, 2700,-29.0, 2735,-28.75, 2765,-28.95, 2800,-29.0, 2840,-28.95, 2865,-29.0, 2905,-29.0,
    2945,-28.9, 2980,-28.95, 2420,-28.85, 2440,-28.65, 2460,-28.95, 2500,-29.0, 2510,-28.9, 2545,-28.9]
e2000 = [2250,-28.65, 2240,-28.45, 2230,-28.55, 2222,-28.7, 2212,-28.45, 2205,-28.9, 2190,-28.3, 2180,-28.75,
    2162,-28.7, 2150,-28.55, 2142,-28.85, 2130,-28.95, 2120,-28.75, 2103,-28.6, 2095,-28.45, 2185,-28.9,
    2195,-28.75, 2272,-28.05, 2282,-27.95, 2295,-28.6, 2306,-28.45, 2322,-28.25, 2335,-28.45, 2350,-28.25,
    2365,-28.45, 2380,-28.6, 2398,-28.5, 2415,-28.7, 2432,-28.55, 2375,-28.05, 2360,-28.1, 2340,-28.0,
    2325,-28.05, 2418,-28.05, 2438,-27.9, 2452,-27.85, 2465,-27.75, 2478,-27.45, 2492,-27.5, 2505,-27.45,
    2520,-27.7, 2536,-27.85, 2552,-27.7, 2570,-27.95, 2588,-28.05, 2602,-27.85, 2618,-28.05, 2632,-27.85,
    2650,-28.0, 2665,-27.9, 2678,-27.75, 2695,-27.9, 2712,-27.85, 2722,-27.6, 2732,-28.1, 2748,-28.2,
    2760,-28.1, 2778,-28.25, 2795,-28.2, 2815,-28.1, 2838,-28.25, 2858,-28.05, 2878,-28.25, 2898,-28.05,
    2918,-28.25, 2935,-28.05, 2950,-28.15, 2968,-28.25, 2985,-28.05, 2990,-28.6, 2995,-28.5, 2520,-28.25,
    2535,-28.4, 2550,-28.25, 2570,-28.55, 2590,-28.6, 2612,-28.5, 2632,-28.65, 2655,-28.5, 2675,-28.6,
    2690,-28.7, 2705,-28.55, 2725,-28.6, 2745,-28.75, 2762,-28.6, 2790,-28.75, 2805,-28.6, 2828,-28.7,
    2855,-28.65, 2878,-28.75, 2898,-28.65, 2922,-28.8, 2940,-28.6, 2965,-28.75, 2980,-28.7, 2465,-28.95,
    2450,-29.0, 2530,-29.0, 2550,-28.9, 2595,-29.0, 2640,-29.0, 2670,-28.95, 2745,-29.0, 2785,-28.95,
    2820,-29.0, 2880,-29.0, 2930,-29.0, 2972,-29.0, 2700,-27.6, 2715,-27.45, 2705,-27.1, 2710,-26.95,
    2698,-27.05, 2690,-27.25, 2720,-27.25, 2672,-27.3, 2640,-27.55, 2625,-27.7, 2605,-27.5, 2940,-27.5,
    2955,-27.7, 2980,-27.6, 2996,-27.55, 2905,-27.7, 2880,-27.75, 2862,-27.65, 2840,-27.75, 2820,-27.75,
    2800,-27.85, 2782,-27.75, 2765,-27.6, 2748,-27.75]
e2200 = [2145,-28.85, 2158,-28.7, 2172,-28.8, 2202,-28.6, 2215,-28.85, 2228,-28.95, 2242,-28.95, 2258,-28.85,
    2282,-28.95, 2300,-28.85, 2315,-28.95, 2332,-28.7, 2352,-28.9, 2372,-28.7, 2392,-28.9, 2405,-28.65,
    2422,-28.85, 2438,-28.45, 2452,-28.25, 2468,-28.4, 2485,-28.05, 2500,-28.3, 2515,-28.75, 2528,-28.3,
    2542,-28.55, 2556,-28.35, 2568,-28.6, 2582,-28.75, 2596,-28.35, 2608,-28.6, 2622,-28.4, 2636,-28.75,
    2648,-28.3, 2660,-28.55, 2672,-28.25, 2684,-28.45, 2696,-28.15, 2710,-28.05, 2716,-27.75, 2726,-28.4,
    2736,-28.55, 2752,-28.7, 2768,-28.65, 2785,-28.6, 2802,-28.8, 2820,-28.6, 2835,-28.8, 2850,-28.4,
    2860,-28.6, 2872,-28.75, 2888,-28.6, 2902,-28.75, 2918,-28.5, 2930,-28.4, 2942,-28.2, 2955,-28.05,
    2948,-28.55, 2962,-28.15, 2972,-28.45, 2982,-28.6, 2996,-28.85, 2512,-28.15, 2540,-28.45, 2575,-28.3,
    2600,-28.45, 2625,-28.65, 2665,-28.75, 2690,-28.4, 2935,-27.85, 2920,-27.95, 2948,-27.7, 2960,-28.25,
    2425,-27.8, 2445,-28.05, 2462,-28.1, 2490,-28.15, 2505,-27.85, 2530,-28.55, 2550,-28.65, 2700,-28.4,
    2705,-27.8, 2712,-27.5]
e2300 = [2552,-28.35, 2570,-28.65, 2586,-28.45, 2604,-28.4, 2618,-28.65, 2634,-28.35, 2650,-28.65, 2666,-28.45,
    2682,-28.65, 2694,-28.3, 2706,-28.75, 2718,-28.65, 2732,-28.7, 2746,-28.6, 2774,-28.75, 2790,-28.65,
    2812,-28.75, 2838,-28.7, 2864,-28.85, 2890,-28.7, 2912,-28.8, 2936,-28.55, 2954,-28.4, 2970,-28.6,
    2986,-28.55, 2568,-28.95, 2600,-28.9, 2632,-28.95, 2658,-28.95, 2695,-28.85, 2742,-28.85, 2790,-28.95,
    2872,-28.95, 2912,-28.85, 2955,-28.85]
e2400 = [2008,-28.2, 2015,-28.55, 2022,-28.6, 2036,-28.75, 2089,-28.85, 2094,-28.7, 2100,-28.7, 2110,-28.4,
    2114,-28.4, 2119,-28.3, 2123,-28.45, 2105,-28.55, 2102,-28.7, 2107,-28.8, 2114,-28.8, 2126,-28.15,
    2131,-28.1, 2137,-28.1, 2123,-28.8, 2169,-28.9, 2167,-28.95, 2141,-28.6, 2148,-28.65, 2155,-28.55,
    2162,-28.85, 2168,-28.75, 2178,-28.65, 2190,-28.95, 2195,-28.6, 2205,-28.9, 2218,-28.45, 2232,-28.05,
    2245,-28.75, 2262,-28.45, 2270,-28.75, 2295,-28.7, 2305,-28.75, 2318,-28.6, 2330,-28.45, 2345,-28.8,
    2358,-28.95, 2375,-28.9, 2395,-28.35, 2412,-28.85, 2432,-27.9, 2445,-28.15, 2458,-27.85, 2470,-27.95,
    2482,-27.6, 2495,-27.8, 2510,-28.3, 2430,-28.65, 2450,-28.35, 2465,-28.65, 2478,-28.85, 2490,-28.7,
    2505,-28.65, 2520,-28.8, 2535,-28.85, 2552,-28.5, 2565,-28.8, 2578,-28.55, 2590,-28.7, 2602,-28.6,
    2618,-28.75, 2630,-28.55, 2648,-28.8, 2662,-28.6, 2678,-28.35, 2690,-28.5, 2700,-28.25, 2705,-28.0,
    2714,-28.2, 2720,-27.9, 2725,-28.75, 2755,-28.85, 2775,-28.95, 2800,-28.75, 2825,-28.85, 2848,-28.75,
    2862,-28.75, 2880,-28.65, 2895,-28.8, 2915,-28.7, 2925,-28.5, 2938,-28.3, 2945,-28.1, 2952,-28.45,
    2960,-28.3, 2968,-28.55, 2975,-28.7, 2985,-28.8, 2995,-28.65, 2530,-28.05, 2545,-28.3, 2565,-28.35,
    2580,-28.1, 2600,-28.3, 2625,-28.25, 2645,-28.4, 2665,-28.3, 2685,-28.15, 2640,-28.65, 2655,-28.8,
    2475,-29.0, 2520,-28.95, 2565,-29.0, 2610,-28.95, 2650,-29.0, 2690,-28.95, 2730,-28.9, 2770,-28.8,
    2845,-28.95, 2880,-28.9, 2925,-28.9, 2935,-28.75, 2950,-28.9, 2420,-28.55, 2402,-28.75, 2385,-28.55]
e2600 = [2410,-27.6, 2416,-27.85, 2422,-28.1, 2428,-27.65, 2434,-28.05, 2440,-28.3, 2446,-28.55, 2456,-28.45,
    2462,-28.75, 2470,-28.65, 2476,-28.45, 2484,-28.75, 2492,-28.5, 2498,-28.8, 2506,-28.55, 2514,-28.7,
    2524,-28.5, 2530,-28.85, 2540,-28.6, 2548,-28.75, 2556,-28.55, 2564,-28.7, 2574,-28.85, 2582,-28.6,
    2594,-28.8, 2606,-28.7, 2614,-28.55, 2624,-28.8, 2634,-28.6, 2644,-28.85, 2652,-28.6, 2660,-28.75,
    2670,-28.55, 2676,-28.8, 2684,-28.4, 2690,-28.6, 2696,-28.25, 2702,-28.5, 2708,-28.2, 2712,-28.55,
    2718,-28.35, 2722,-28.85, 2748,-28.85, 2768,-28.9, 2796,-28.85, 2832,-28.85, 2858,-28.8, 2868,-28.6,
    2886,-28.85, 2902,-28.85, 2918,-28.6, 2928,-28.65, 2934,-28.2, 2940,-28.45, 2950,-28.25, 2956,-28.6,
    2964,-28.45, 2972,-28.75, 2980,-28.6, 2988,-28.7, 2998,-28.6, 2385,-28.3, 2395,-28.7, 2365,-28.8,
    2630,-28.85, 2668,-28.9, 2688,-28.85]
e2750 = [2007,-28.8, 2130,-28.8, 2420,-27.4, 2425,-27.55, 2430,-27.75, 2438,-27.45, 2415,-27.75, 2408,-27.95,
    2442,-27.95, 2450,-28.05, 2458,-28.1, 2465,-28.2, 2478,-28.55, 2486,-28.2, 2498,-28.1, 2505,-28.4,
    2512,-27.95, 2522,-28.35, 2530,-27.7, 2512,-27.85, 2380,-28.35, 2392,-28.6, 2408,-28.75, 2425,-28.45,
    2448,-28.8, 2472,-28.7, 2492,-28.85, 2505,-28.8, 2520,-28.6, 2532,-28.7, 2545,-28.65, 2558,-28.8,
    2570,-28.7, 2585,-28.85, 2600,-28.8, 2615,-28.85, 2630,-28.7, 2640,-28.8, 2658,-28.7, 2668,-28.75,
    2678,-28.55, 2685,-28.65, 2690,-28.3, 2695,-28.75, 2700,-28.6, 2703,-28.1, 2708,-28.4, 2712,-28.75,
    2738,-28.8, 2760,-28.9, 2782,-28.85, 2815,-28.85, 2865,-28.7, 2908,-28.8, 2948,-28.6, 2958,-28.65,
    2965,-28.8, 2978,-28.85, 2996,-28.75, 2988,-28.8]
e2950 = [2460,-28.85, 2468,-28.8, 2482,-28.65, 2488,-28.85, 2500,-28.55, 2510,-28.75, 2516,-28.5, 2528,-28.65,
    2536,-28.55, 2544,-28.8, 2654,-28.8, 2662,-28.85, 2672,-28.7, 2680,-28.75, 2686,-28.55, 2692,-28.7,
    2696,-28.45, 2700,-28.8, 2704,-28.3, 2706,-28.65, 2712,-28.9, 2965,-28.7, 2975,-28.8, 2945,-28.8,
    2925,-28.8, 2900,-28.9, 2870,-28.9, 2835,-28.9]
e3200 = [2385,-28.9, 2390,-28.6, 2420,-28.95, 2450,-28.95, 2490,-28.9, 2525,-28.75, 2538,-28.8, 2550,-28.85,
    2562,-28.9, 2640,-28.85, 2652,-28.75, 2668,-28.8, 2682,-28.85, 2692,-28.9, 2698,-28.7, 2710,-28.55,
    2730,-28.8, 2818,-28.95, 2905,-28.9, 2968,-28.9]

# lower state energy assigned to each group
energy_levels = [80, 250, 350, 450, 500, 500, 650, 850, 1000, 1100, 1200, 1250, 1350, 1450, 1500, 1600, 1700,
                 1850, 1950, 2000, 2200, 2300, 2400, 2600, 2750, 2950, 3200]
energy_groups = [e0080, e0250, e0350, e0450, e0500, e0500_left, e0650, e0850, e1000, e1100, e1200, e1250, e1350,
                 e1450, e1500, e1600, e1700, e1850, e1950, e2000, e2200, e2300, e2400, e2600, e2750, e2950, e3200]

wn, log_s, elower = [], [], []
for level, group in zip(energy_levels, energy_groups):
    pairs = np.array(group).reshape(-1, 2)
    wn.extend(pairs[:, 0])
    log_s.extend(pairs[:, 1])
    elower.extend([level] * len(pairs))

wn = np.array(wn)
strength = 10.0 ** np.array(log_s)
elower = np.array(elower)
order = np.argsort(wn, kind='stable')
wn, strength, elower = wn[order], strength[order], elower[order]

iso_label = r'$\mathrm{HD}^{16}\mathrm{O}$ (ID=1, ISO=4)'
xlabel = r'Wavenumber (cm$^{-1}$)'
ylabel = r'Line strength (cm$^{-1}$ / (molec cm$^{-2}$))'

fig = plt.figure(figsize=(12.35, 6.94), dpi=100)
W, H = 1235.0, 694.0
ax1 = fig.add_axes([69/W, 1-294/H, 930/W, 268/H])
ax2 = fig.add_axes([69/W, 1-642/H, 930/W, 268/H])
cax = fig.add_axes([1011/W, 1-642/H, 27/W, 268/H])

for ax in (ax1, ax2):
    ax.set_facecolor('#eeeeee')
    ax.set_yscale('log')
    ax.set_xlim(1951.6, 3049.6)
    ax.set_ylim(1e-32, 1e-22)
    ax.set_yticks([1e-32, 1e-30, 1e-28, 1e-26, 1e-24])
    ax.minorticks_off()
    ax.set_xticks([2000, 2200, 2400, 2600, 2800, 3000])
    ax.ticklabel_format(axis='x', style='sci', scilimits=(3, 3))
    ax.xaxis.get_offset_text().set_fontsize(6.5)
    ax.tick_params(labelsize=6.5)
    ax.set_xlabel(xlabel, fontsize=8)
    ax.set_ylabel(ylabel, fontsize=8)

ax1.scatter(wn, strength, s=16, color='tab:blue', edgecolors='k', linewidths=0.2, label=iso_label)
ax1.set_title('Line data coloured by isotopologue', fontsize=8)
ax1.legend(title='Isotope', loc='upper left', bbox_to_anchor=(1.0175, 1.023), fontsize=10,
           title_fontsize=12, borderaxespad=0)

sc = ax2.scatter(wn, strength, s=16, c=elower, cmap='turbo', vmin=0, vmax=3330, edgecolors='k', linewidths=0.2)
ax2.set_title('Line data for ' + iso_label, fontsize=8)

cb = fig.colorbar(sc, cax=cax)
cb.set_label(r'Lower state energy (cm$^{-1}$)', fontsize=8)
cb.ax.tick_params(labelsize=6.5)
cb.ax.ticklabel_format(axis='y', style='sci', scilimits=(3, 3))
cb.ax.yaxis.get_offset_text().set_fontsize(6.5)
cb.set_ticks([0, 500, 1000, 1500, 2000, 2500, 3000])

fig.savefig('out.png', dpi=100)
